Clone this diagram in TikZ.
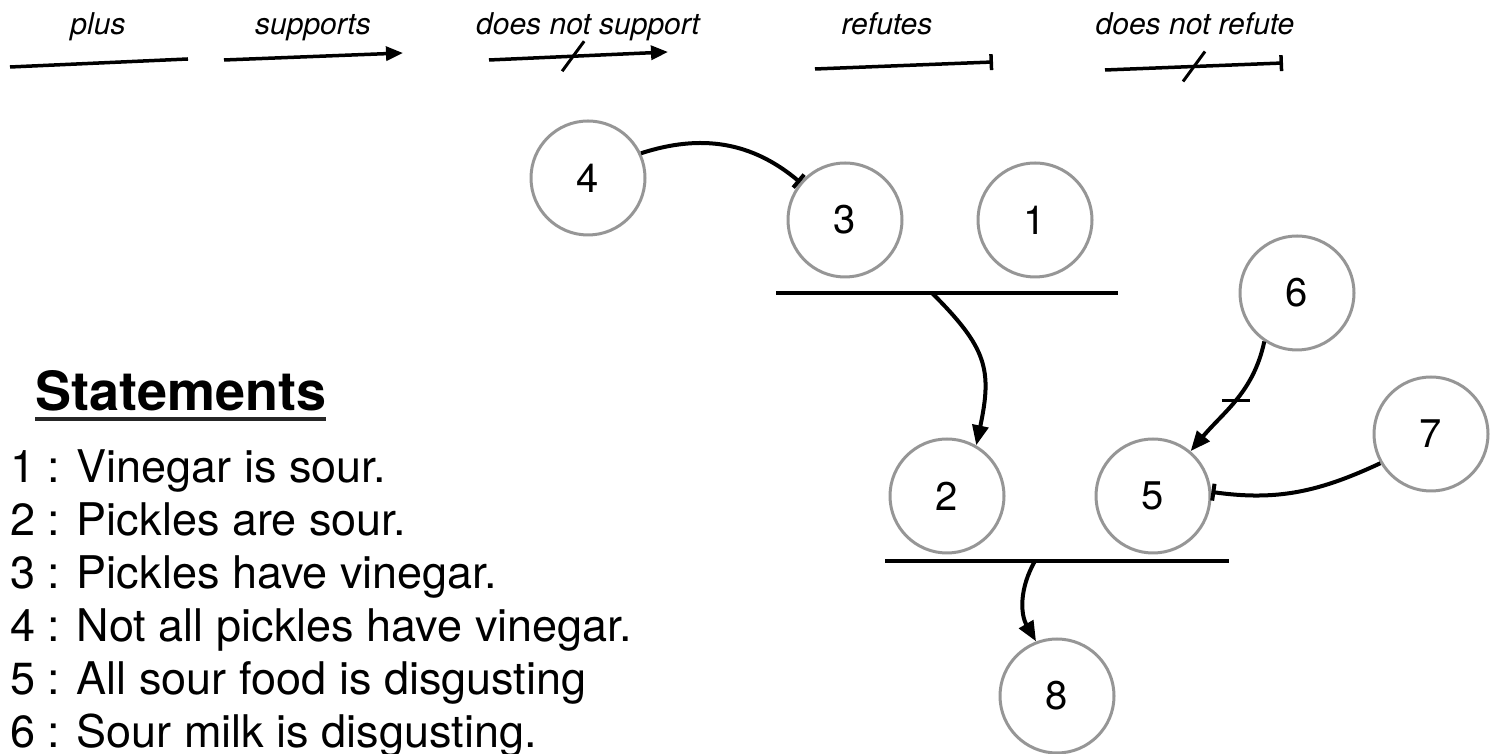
\documentclass[tikz,border=0pt]{standalone}
\usepackage{fontspec}
\setmainfont{TeX Gyre Heros}
\usetikzlibrary{arrows.meta}
\definecolor{circgray}{RGB}{150,150,150}
\begin{document}
\begin{tikzpicture}[x=1pt,y=1pt,
  stmt/.style={circle, draw=circgray, line width=3pt, minimum size=114pt, inner sep=0pt, font=\fontsize{40}{40}\selectfont},
  conn/.style={line width=4pt},
  sup/.style={conn, -{Triangle[length=20pt,width=16pt]}},
  ref/.style={conn, -{Bar[width=17pt]}},
  legline/.style={line width=3.5pt},
  legsup/.style={legline, -{Triangle[length=17pt,width=14pt]}},
  legref/.style={legline, -{Bar[width=16pt]}},
  barline/.style={line width=4pt},
  leg/.style={font=\fontsize{30}{30}\selectfont\itshape, anchor=base, inner sep=0pt},
  stext/.style={font=\fontsize{45}{45}\selectfont, anchor=base west, inner sep=0pt},
  slash/.style={line width=3pt},
]
\useasboundingbox (0,0) rectangle (1497,754);

% legend
\node[leg] (lplus) at (98,719) {plus};
\node[leg] (lsup) at (313,719) {supports};
\node[leg] (ldns) at (588,719) {does not support};
\node[leg] (lref) at (887,719) {refutes};
\node[leg] (ldnr) at (1195,719) {does not refute};

\coordinate (pa) at (10,687);   \coordinate (pb) at (188,695);
\coordinate (sa) at (224,694);  \coordinate (sb) at (403,701);
\coordinate (da) at (489,694);  \coordinate (db) at (668,702);
\coordinate (ra) at (815,685);  \coordinate (rb) at (993,692);
\coordinate (na) at (1105,684); \coordinate (nb) at (1283,691);

\draw[legline] (pa) -- (pb);
\draw[legsup] (sa) -- (sb);
\draw[legsup] (da) -- coordinate[pos=0.47] (dm) (db);
\draw[slash] ([shift={(-11,-15)}]dm) -- ([shift={(11,15)}]dm);
\draw[legref] (ra) -- (rb);
\draw[legref] (na) -- coordinate[pos=0.5] (nm) (nb);
\draw[slash] ([shift={(-11,-15)}]nm) -- ([shift={(11,15)}]nm);

% statements
\node[anchor=base west, inner sep=0pt, font=\fontsize{54}{54}\selectfont\bfseries] (head) at (35,343) {Statements};
\draw[line width=3.5pt, black!85] ([yshift=-8pt]head.base west) -- ([yshift=-8pt]head.base east);
\node[stext] (s1) at (10,271) {1 : Vinegar is sour.};
\node[stext] (s2) at (10,218) {2 : Pickles are sour.};
\node[stext] (s3) at (10,165) {3 : Pickles have vinegar.};
\node[stext] (s4) at (10,112) {4 : Not all pickles have vinegar.};
\node[stext] (s5) at (10,59) {5 : All sour food is disgusting};
\node[stext] (s6) at (10,6) {6 : Sour milk is disgusting.};

% argument nodes
\node[stmt] (n4) at (588,576) {4};
\node[stmt] (n3) at (845,534) {3};
\node[stmt] (n1) at (1035,534) {1};
\node[stmt] (n6) at (1297,461) {6};
\node[stmt] (n7) at (1431,320) {7};
\node[stmt] (n2) at (947,258) {2};
\node[stmt] (n5) at (1153,258) {5};
\node[stmt] (n8) at (1057,58) {8};

% bars
\coordinate (b1l) at (776,461); \coordinate (b1r) at (1118,461);
\coordinate (b2l) at (885,193); \coordinate (b2r) at (1229,193);
\draw[barline] (b1l) -- (b1r);
\draw[barline] (b2l) -- (b2r);
\coordinate (b1) at (932,461);
\coordinate (b2) at (1035,193);

% connectors
\draw[ref] (n4.25) to[out=18,in=140] (n3.140);
\draw[sup] (b1) to[out=-45,in=78,looseness=1.25] (n2.60);
\draw[sup] (n6.236) to[out=258,in=50] coordinate[pos=0.5] (m6) (n5.50);
\draw[slash] ([xshift=-14pt]m6) -- ([xshift=14pt]m6);
\draw[ref] (n7.210) to[out=205,in=-8] (n5.4);
\draw[sup] (b2) to[out=240,in=120] (n8.111);
\end{tikzpicture}
\end{document}
